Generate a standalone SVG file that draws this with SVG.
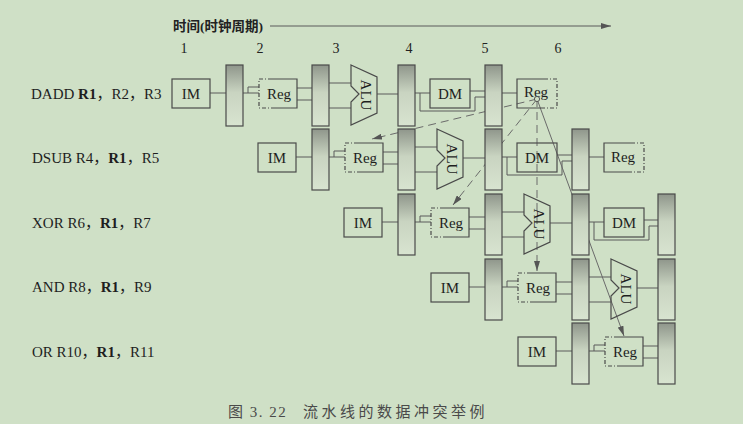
<svg xmlns="http://www.w3.org/2000/svg" width="743" height="424" viewBox="0 0 743 424">
<defs>
<linearGradient id="lg" x1="0" y1="0" x2="0" y2="1">
<stop offset="0" stop-color="#8f968b"/>
<stop offset="0.45" stop-color="#c9d4c1"/>
<stop offset="1" stop-color="#d8e4d0"/>
</linearGradient>
<marker id="ah" viewBox="0 0 10 6" refX="10" refY="3" markerWidth="10" markerHeight="6" markerUnits="userSpaceOnUse" orient="auto">
<path d="M0,0 L10,3 L0,6 Z" fill="#555"/>
</marker>
<path id="alu" d="M0,0 L26,12 L26,48 L0,60 L0,37 L8,29 L0,21 Z"/>
</defs>
<style>
.bg{fill:#cfe0c6}
.box{fill:none;stroke:#4a4a4a;stroke-width:1.2}
.latch{fill:url(#lg);stroke:#4a4a4a;stroke-width:1.2}
.dsh{fill:none;stroke:#4a4a4a;stroke-width:1.2;stroke-dasharray:4 2 1 2}
.ln{fill:none;stroke:#5a5a5a;stroke-width:1}
.dep{fill:none;stroke:#6a6a6a;stroke-width:1;stroke-dasharray:8 5}
.dep2{fill:none;stroke:#6a6a6a;stroke-width:1}
.t{font-family:"Liberation Serif","Noto Sans CJK SC",serif;font-size:15px;fill:#1e1e1e}
.bt{font-family:"Liberation Serif","Noto Sans CJK SC",serif;font-size:15px;fill:#1e1e1e;text-anchor:middle}
.num{font-family:"Liberation Serif",serif;font-size:14px;fill:#222;text-anchor:middle}
.cap{font-family:"Liberation Serif","Noto Sans CJK SC",sans-serif;font-size:15px;fill:#4a4a4a}
</style>
<rect class="bg" x="0" y="0" width="743" height="424"/>

<g id="header">
<text x="173" y="31" style="font-family:'Liberation Serif','Noto Sans CJK SC',sans-serif;font-size:13.5px;font-weight:bold;fill:#222">时间(时钟周期)</text>
<text class="num" x="184" y="53">1</text>
<text class="num" x="260" y="53">2</text>
<text class="num" x="336" y="53">3</text>
<text class="num" x="409" y="53">4</text>
<text class="num" x="485" y="53">5</text>
<text class="num" x="558" y="53">6</text>
</g>

<g id="labels">
<text class="t" x="31" y="99">DADD <tspan font-weight="bold">R1</tspan>，R2，R3</text>
<text class="t" x="32" y="163">DSUB R4，<tspan font-weight="bold">R1</tspan>，R5</text>
<text class="t" x="32" y="228">XOR R6，<tspan font-weight="bold">R1</tspan>，R7</text>
<text class="t" x="32" y="292">AND R8，<tspan font-weight="bold">R1</tspan>，R9</text>
<text class="t" x="32" y="357">OR R10，<tspan font-weight="bold">R1</tspan>，R11</text>
</g>

<g id="connectors">
<path class="ln" d="M270,26 H611" marker-end="url(#ah)"/>
<path class="ln" d="M210,93 H226 M243,93 H259 M248,93 V87 H259 M297,88 H312 M297,100 H312 M329,83 H351 M329,108 H351 M377,94 H398 M415,93 H430 M470,91 H485 M420,93 V111 H475 V97 H485 M502,93 H517"/>
<path class="ln" d="M296,157 H312 M329,157 H345 M334,157 V151 H345 M383,152 H398 M383,164 H398 M415,147 H437 M415,172 H437 M463,158 H485 M502,157 H517 M557,155 H572 M507,157 V175 H562 V161 H572 M589,157 H604"/>
<path class="ln" d="M382,222 H398 M415,222 H431 M420,222 V216 H431 M469,217 H485 M469,229 H485 M502,212 H524 M502,237 H524 M550,223 H572 M589,222 H604 M644,220 H658 M594,222 V240 H649 V226 H658"/>
<path class="ln" d="M469,287 H485 M502,287 H518 M507,287 V281 H518 M556,282 H572 M556,294 H572 M589,277 H611 M589,302 H611 M637,288 H658"/>
<path class="ln" d="M556,351 H572 M589,351 H605 M594,351 V345 H605 M643,346 H658 M643,358 H658"/>
<path class="dep" d="M537,99 L372,139" marker-end="url(#ah)"/>
<path class="dep" d="M537,99 L453,205" marker-end="url(#ah)"/>
<path class="dep" d="M537,99 L537,271" marker-end="url(#ah)"/>
<path class="dep2" d="M537,99 L624,336" marker-end="url(#ah)"/>
</g>

<g id="r1-im"><rect class="box" x="172" y="79" width="38" height="29"/><text class="bt" x="191" y="99">IM</text></g>
<g id="r1-l1"><rect class="latch" x="226" y="65" width="17" height="61"/></g>
<g id="r1-reg"><path class="box" d="M272,79 H297 V108 H272"/><path class="dsh" d="M272,79 H259 V108 H272"/><text class="bt" x="279" y="99">Reg</text></g>
<g id="r1-l2"><rect class="latch" x="312" y="65" width="17" height="61"/></g>
<g id="r1-alu"><use href="#alu" x="351" y="65" class="box"/><text class="bt" transform="translate(366,95) rotate(90)" y="5">ALU</text></g>
<g id="r1-l3"><rect class="latch" x="398" y="65" width="17" height="61"/></g>
<g id="r1-dm"><rect class="box" x="430" y="79" width="40" height="29"/><text class="bt" x="450" y="99">DM</text></g>
<g id="r1-l4"><rect class="latch" x="485" y="65" width="17" height="61"/></g>
<g id="r1-wb"><path class="box" d="M544,79 H517 V108 H544"/><path class="dsh" d="M544,79 H557 V108 H544"/><text class="bt" x="536" y="97">Reg</text><circle cx="537" cy="99" r="2.6" fill="#cfe0c6" stroke="#555" stroke-width="1"/></g>

<g id="r2-im"><rect class="box" x="258" y="143" width="38" height="29"/><text class="bt" x="277" y="163">IM</text></g>
<g id="r2-l1"><rect class="latch" x="312" y="129" width="17" height="61"/></g>
<g id="r2-reg"><path class="box" d="M358,143 H383 V172 H358"/><path class="dsh" d="M358,143 H345 V172 H358"/><text class="bt" x="365" y="163">Reg</text></g>
<g id="r2-l2"><rect class="latch" x="398" y="129" width="17" height="61"/></g>
<g id="r2-alu"><use href="#alu" x="437" y="129" class="box"/><text class="bt" transform="translate(452,159) rotate(90)" y="5">ALU</text></g>
<g id="r2-l3"><rect class="latch" x="485" y="129" width="17" height="61"/></g>
<g id="r2-dm"><rect class="box" x="517" y="143" width="40" height="29"/><text class="bt" x="537" y="163">DM</text></g>
<g id="r2-l4"><rect class="latch" x="572" y="129" width="17" height="61"/></g>
<g id="r2-wb"><path class="box" d="M631,143 H604 V172 H631"/><path class="dsh" d="M631,143 H644 V172 H631"/><text class="bt" x="623" y="162">Reg</text></g>

<g id="r3-im"><rect class="box" x="344" y="208" width="38" height="29"/><text class="bt" x="363" y="228">IM</text></g>
<g id="r3-l1"><rect class="latch" x="398" y="194" width="17" height="61"/></g>
<g id="r3-reg"><path class="box" d="M444,208 H469 V237 H444"/><path class="dsh" d="M444,208 H431 V237 H444"/><text class="bt" x="451" y="228">Reg</text></g>
<g id="r3-l2"><rect class="latch" x="485" y="194" width="17" height="61"/></g>
<g id="r3-alu"><use href="#alu" x="524" y="194" class="box"/><text class="bt" transform="translate(539,224) rotate(90)" y="5">ALU</text></g>
<g id="r3-l3"><rect class="latch" x="572" y="194" width="17" height="61"/></g>
<g id="r3-dm"><rect class="box" x="604" y="208" width="40" height="29"/><text class="bt" x="624" y="228">DM</text></g>
<g id="r3-l4"><rect class="latch" x="658" y="194" width="17" height="61"/></g>

<g id="r4-im"><rect class="box" x="431" y="273" width="38" height="29"/><text class="bt" x="450" y="293">IM</text></g>
<g id="r4-l1"><rect class="latch" x="485" y="259" width="17" height="61"/></g>
<g id="r4-reg"><path class="box" d="M531,273 H556 V302 H531"/><path class="dsh" d="M531,273 H518 V302 H531"/><text class="bt" x="538" y="293">Reg</text></g>
<g id="r4-l2"><rect class="latch" x="572" y="259" width="17" height="61"/></g>
<g id="r4-alu"><use href="#alu" x="611" y="259" class="box"/><text class="bt" transform="translate(626,289) rotate(90)" y="5">ALU</text></g>
<g id="r4-l3"><rect class="latch" x="658" y="259" width="17" height="61"/></g>

<g id="r5-im"><rect class="box" x="518" y="337" width="38" height="29"/><text class="bt" x="537" y="357">IM</text></g>
<g id="r5-l1"><rect class="latch" x="572" y="323" width="17" height="61"/></g>
<g id="r5-reg"><path class="box" d="M618,337 H643 V366 H618"/><path class="dsh" d="M618,337 H605 V366 H618"/><text class="bt" x="625" y="357">Reg</text></g>
<g id="r5-l2"><rect class="latch" x="658" y="323" width="17" height="61"/></g>

<g id="caption">
<text class="cap" x="228" y="417" letter-spacing="1.5">图 3. 22</text>
<text class="cap" x="303" y="417" letter-spacing="3.5">流水线的数据冲突举例</text>
</g>
</svg>
